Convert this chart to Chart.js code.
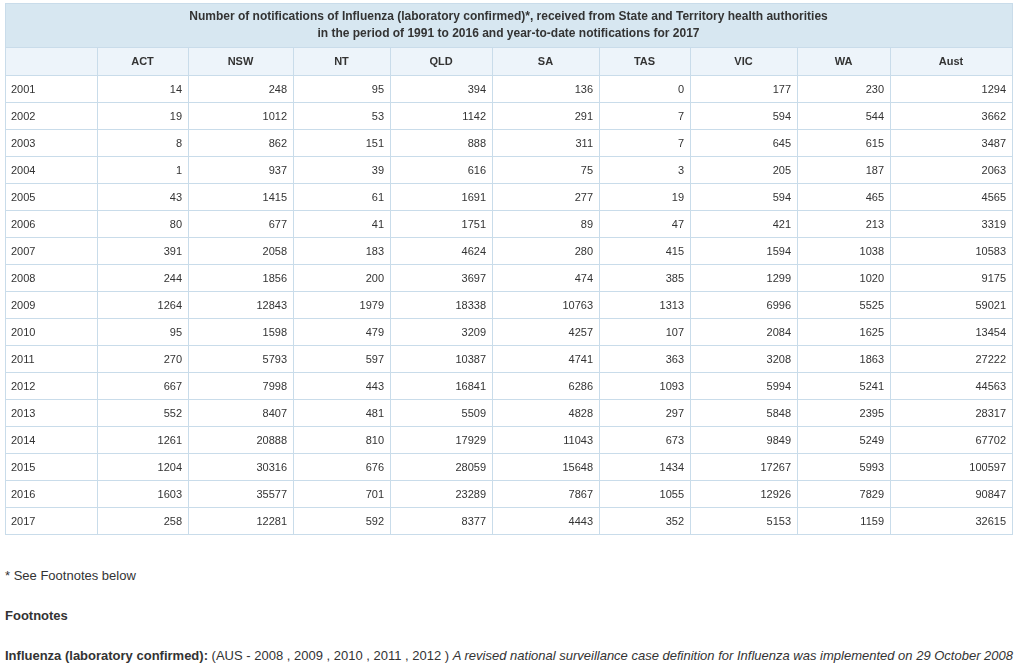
<!DOCTYPE html>
<html>
<head>
<meta charset="utf-8">
<script src="https://cdn.jsdelivr.net/npm/chart.js@4.4.0/dist/chart.umd.min.js"></script>
<style>
  body { margin: 0; background: #fff; font-family: "Liberation Sans", Arial, sans-serif; color: #333; }
  #wrap { position: absolute; left: 0; top: 0; width: 1017px; height: 545px; }
  .note { position: absolute; left: 5px; font-size: 13px; line-height: 16px; white-space: nowrap; }
</style>
</head>
<body>
<div id="wrap"><canvas id="tbl"></canvas></div>
<div class="note" style="top:568px">* See Footnotes below</div>
<div class="note" style="top:608px;font-weight:bold">Footnotes</div>
<div class="note" style="top:648px"><b>Influenza (laboratory confirmed):</b> (AUS - 2008 , 2009 , 2010 , 2011 , 2012 ) <i>A revised national surveillance case definition for Influenza was implemented on 29 October 2008</i></div>

<script>
// table data, one array per column
const titleLines = [
    'Number of notifications of Influenza (laboratory confirmed)*, received from State and Territory health authorities',
    'in the period of 1991 to 2016 and year-to-date notifications for 2017'
];
const years = ['2001', '2002', '2003', '2004', '2005', '2006', '2007', '2008', '2009',
               '2010', '2011', '2012', '2013', '2014', '2015', '2016', '2017'];
const states = ['ACT', 'NSW', 'NT', 'QLD', 'SA', 'TAS', 'VIC', 'WA', 'Aust'];
const act  = [14, 19, 8, 1, 43, 80, 391, 244, 1264, 95, 270, 667, 552, 1261, 1204, 1603, 258];
const nsw  = [248, 1012, 862, 937, 1415, 677, 2058, 1856, 12843, 1598, 5793, 7998, 8407, 20888, 30316, 35577, 12281];
const nt   = [95, 53, 151, 39, 61, 41, 183, 200, 1979, 479, 597, 443, 481, 810, 676, 701, 592];
const qld  = [394, 1142, 888, 616, 1691, 1751, 4624, 3697, 18338, 3209, 10387, 16841, 5509, 17929, 28059, 23289, 8377];
const sa   = [136, 291, 311, 75, 277, 89, 280, 474, 10763, 4257, 4741, 6286, 4828, 11043, 15648, 7867, 4443];
const tas  = [0, 7, 7, 3, 19, 47, 415, 385, 1313, 107, 363, 1093, 297, 673, 1434, 1055, 352];
const vic  = [177, 594, 645, 205, 594, 421, 1594, 1299, 6996, 2084, 3208, 5994, 5848, 9849, 17267, 12926, 5153];
const wa   = [230, 544, 615, 187, 465, 213, 1038, 1020, 5525, 1625, 1863, 5241, 2395, 5249, 5993, 7829, 1159];
const aust = [1294, 3662, 3487, 2063, 4565, 3319, 10583, 9175, 59021, 13454, 27222, 44563, 28317, 67702, 100597, 90847, 32615];
const columns = [act, nsw, nt, qld, sa, tas, vic, wa, aust];

// layout: column edges in px from the table's left border
const colEdges = [0, 92, 183, 288, 385, 487, 594, 685, 792, 885, 1007];
const titleHeight = 44;
const headerHeight = 28;
const borderColor = '#c9dcea';
const titleBg = '#d7e7f1';
const headerBg = '#edf4fa';
const textColor = '#333';
const font = '"Liberation Sans", Arial, sans-serif';

const tablePlugin = {
    id: 'tableCells',
    beforeDatasetsDraw(chart) {
        const ctx = chart.ctx;
        const xs = chart.scales.x;
        const ys = chart.scales.y;
        const area = chart.chartArea;
        const left = xs.getPixelForValue(0);
        const right = xs.getPixelForValue(colEdges[colEdges.length - 1]);
        const headTop = area.top - headerHeight;
        const top = headTop - titleHeight;
        const band = (ys.getPixelForValue(1) - ys.getPixelForValue(0));

        ctx.save();
        // backgrounds
        ctx.fillStyle = titleBg;
        ctx.fillRect(left, top, right - left, titleHeight);
        ctx.fillStyle = headerBg;
        ctx.fillRect(left, headTop, right - left, headerHeight);

        // borders
        ctx.strokeStyle = borderColor;
        ctx.lineWidth = 1;
        ctx.beginPath();
        const hLines = [top, headTop, area.top];
        years.forEach((y, i) => hLines.push(ys.getPixelForValue(i) + band / 2));
        hLines.forEach(y => {
            const py = Math.round(y) + 0.5;
            ctx.moveTo(left, py);
            ctx.lineTo(right + 1, py);
        });
        colEdges.forEach((e, i) => {
            const px = Math.round(xs.getPixelForValue(e)) + 0.5;
            const y0 = (i === 0 || i === colEdges.length - 1) ? top : headTop;
            ctx.moveTo(px, Math.round(y0));
            ctx.lineTo(px, Math.round(area.bottom) + 1);
        });
        ctx.stroke();

        ctx.fillStyle = textColor;
        ctx.textBaseline = 'middle';

        // title
        ctx.font = 'bold 12px ' + font;
        ctx.textAlign = 'center';
        const midX = (left + right) / 2;
        ctx.fillText(titleLines[0], midX, top + 14);
        ctx.fillText(titleLines[1], midX, top + 31);

        // column headers
        ctx.font = 'bold 11px ' + font;
        states.forEach((s, i) => {
            const cx = (xs.getPixelForValue(colEdges[i + 1]) + xs.getPixelForValue(colEdges[i + 2])) / 2;
            ctx.fillText(s, cx, headTop + headerHeight / 2 + 1);
        });

        // year column
        ctx.font = '11px ' + font;
        ctx.textAlign = 'left';
        years.forEach((y, i) => {
            ctx.fillText(y, left + 6, ys.getPixelForValue(i) + 1);
        });

        // value cells, placed at each point of the datasets
        ctx.textAlign = 'right';
        chart.data.datasets.forEach((ds, di) => {
            chart.getDatasetMeta(di).data.forEach((pt, r) => {
                ctx.fillText(String(ds.data[r].v), pt.x - 6, pt.y + 1);
            });
        });
        ctx.restore();
    }
};

new Chart(document.getElementById('tbl'), {
    type: 'scatter',
    data: {
        datasets: states.map((s, i) => ({
            label: s,
            data: years.map((yr, r) => ({ x: colEdges[i + 2], y: yr, v: columns[i][r] })),
            pointRadius: 0,
            pointHoverRadius: 0
        }))
    },
    options: {
        responsive: true,
        maintainAspectRatio: false,
        animation: false,
        events: [],
        layout: { padding: { left: 5, right: 5, top: 75, bottom: 11 } },
        plugins: { legend: { display: false }, tooltip: { enabled: false } },
        scales: {
            x: { type: 'linear', min: 0, max: colEdges[colEdges.length - 1], display: false },
            y: { type: 'category', labels: years, offset: true, display: false }
        }
    },
    plugins: [tablePlugin]
});
</script>
</body>
</html>
